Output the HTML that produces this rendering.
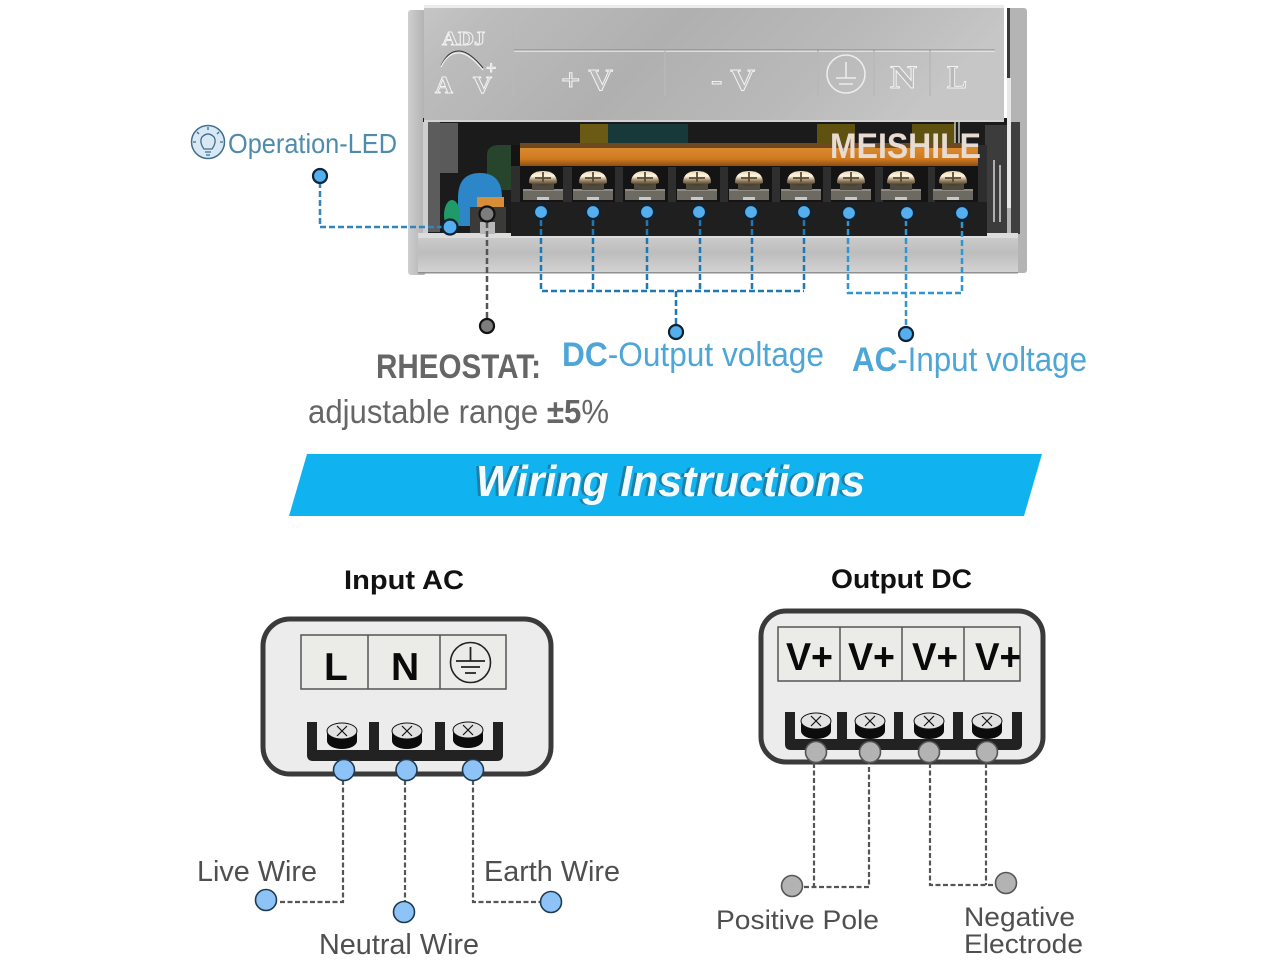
<!DOCTYPE html>
<html><head><meta charset="utf-8"><style>
html,body{margin:0;padding:0;background:#fff}
svg{display:block}
text{font-family:"Liberation Sans",sans-serif}
.em{font-family:"Liberation Serif",serif;font-weight:700;fill:#b9b9b9;stroke:#f4f4f4;stroke-width:.9}
</style></head><body>
<svg width="1280" height="960" viewBox="0 0 1280 960" xmlns="http://www.w3.org/2000/svg">
<defs>
<linearGradient id="plate" x1="0" y1="0" x2="1" y2="0.2">
<stop offset="0" stop-color="#c6c6c6"/><stop offset=".12" stop-color="#bcbcbc"/><stop offset=".45" stop-color="#b0b0b0"/><stop offset=".75" stop-color="#b9b9b9"/><stop offset="1" stop-color="#c6c6c6"/>
</linearGradient>
<linearGradient id="lip" x1="0" y1="0" x2="0" y2="1">
<stop offset="0" stop-color="#cfcfcf"/><stop offset=".5" stop-color="#bdbdbd"/><stop offset="1" stop-color="#d4d4d4"/>
</linearGradient>
<linearGradient id="orange" x1="0" y1="0" x2="0" y2="1">
<stop offset="0" stop-color="#d98a2e"/><stop offset=".6" stop-color="#d07a20"/><stop offset="1" stop-color="#8d4f10"/>
</linearGradient>
<linearGradient id="screw" x1="0" y1="0" x2="0" y2="1">
<stop offset="0" stop-color="#e8d8b8"/><stop offset=".35" stop-color="#fff6e2"/><stop offset=".65" stop-color="#a08a68"/><stop offset="1" stop-color="#3a3226"/>
</linearGradient>
<linearGradient id="wall" x1="0" y1="0" x2="1" y2="0">
<stop offset="0" stop-color="#cfcfcf"/><stop offset="1" stop-color="#b0b0b0"/>
</linearGradient>
<g id="sc">
<rect x="-20" y="4" width="40" height="11" fill="#6d6a62"/>
<rect x="-20" y="4" width="40" height="2" fill="#8f8b82"/>
<rect x="-11" y="-3" width="22" height="8" fill="#4f4a40"/>
<path d="M-14 -2Q-14 -14 0 -14Q14 -14 14 -2Q0 3 -14 -2Z" fill="url(#screw)"/>
<path d="M-8 -7H8M0 -13V-3" stroke="#5a4a34" stroke-width="1.800"/>
<rect x="-6" y="12" width="12" height="3" fill="#c9c9c9"/>
</g>
<g id="ts">
<ellipse cx="0" cy="8" rx="15" ry="8" fill="#0c0c0c"/>
<rect x="-15" y="-1" width="30" height="9" fill="#0c0c0c"/>
<ellipse cx="0" cy="-2" rx="15" ry="8" fill="#e2e2e2" stroke="#111" stroke-width="1"/>
<path d="M-5 -7L5 3M5 -7L-5 3" stroke="#111" stroke-width="1.200"/>
</g>
</defs>

<!-- PSU body -->
<rect x="408" y="10" width="18" height="265" rx="3" fill="url(#wall)"/>
<rect x="423" y="118" width="590" height="118" fill="#1b1b1b"/>
<rect x="423" y="122" width="5" height="112" fill="#cfcfcf"/>
<rect x="428" y="122" width="12" height="110" fill="#5c5c5c"/>
<rect x="440" y="123" width="18" height="50" fill="#5a5a5a"/>
<rect x="985" y="125" width="22" height="108" fill="#3c3c3c"/>
<path d="M994 160V222M1000 165V222" stroke="#d5d5d5" stroke-width="1.500"/>
<rect x="1007" y="8" width="20" height="265" rx="3" fill="#b4b4b4"/>
<rect x="1007" y="8" width="3" height="70" fill="#3a3a3a"/>
<rect x="1011" y="122" width="9" height="112" fill="#3f3f3f"/>
<rect x="1007" y="78" width="4" height="130" fill="#e8e8e8"/>
<rect x="580" y="124" width="28" height="20" fill="#6a5a14"/>
<rect x="608" y="124" width="80" height="20" fill="#17393a"/>
<rect x="817" y="124" width="38" height="20" fill="#5f5210"/>
<rect x="912" y="124" width="43" height="20" fill="#5f5210"/>
<path d="M955 122V148M959 122V148" stroke="#ddd" stroke-width="1.300"/>
<rect x="424" y="5" width="580" height="117" rx="2" fill="url(#plate)"/>
<rect x="424" y="5" width="580" height="3" fill="#ececec"/>
<rect x="424" y="120" width="580" height="2" fill="#d2d2d2"/>
<rect x="418" y="233" width="600" height="40" fill="url(#lip)"/>
<rect x="418" y="233" width="600" height="5" fill="#dcdcdc"/>
<rect x="418" y="272" width="600" height="1.500" fill="#8f8f8f"/>

<!-- Engraved -->
<g fill="none" stroke="#ececec" stroke-width="1.600">
<path d="M513 22V96M514 51H995M665 51V96M818 50V96M874 50V96M930 50V96"/>
<circle cx="846" cy="74" r="19"/>
<path d="M846 62V78M836 78H856M839 84H853"/>
</g>
<path d="M513 22V96M514 50H995M665 51V96M818 50V96M874 50V96M930 50V96" fill="none" stroke="#777" stroke-width=".7"/>
<path d="M441 66Q448 50 460 51Q470 52 483 68" fill="none" stroke="#333" stroke-width="1"/>
<path d="M441 67Q448 52 460 53Q470 54 483 70" fill="none" stroke="#f4f4f4" stroke-width="1.200"/>
<text class="em" x="442" y="45" font-size="20" textLength="43" lengthAdjust="spacingAndGlyphs">ADJ</text>
<text class="em" x="435" y="93" font-size="24" textLength="18" lengthAdjust="spacingAndGlyphs">A</text>
<text class="em" x="473" y="93" font-size="24" textLength="19" lengthAdjust="spacingAndGlyphs">V</text>
<text class="em" x="486" y="74" font-size="18">+</text>
<text class="em" x="561" y="90" font-size="31" textLength="52" lengthAdjust="spacingAndGlyphs">+ V</text>
<text class="em" x="711" y="90" font-size="31" textLength="44" lengthAdjust="spacingAndGlyphs">- V</text>
<text class="em" x="890" y="88" font-size="33" textLength="27" lengthAdjust="spacingAndGlyphs">N</text>
<text class="em" x="947" y="88" font-size="33" textLength="20" lengthAdjust="spacingAndGlyphs">L</text>

<!-- Components -->
<path d="M487 190V155Q487 145 500 145H511V190Z" fill="#27452c"/>
<path d="M458 226V198Q458 173 480 173Q502 173 502 198V226Z" fill="#2c86c8"/>
<ellipse cx="452" cy="215" rx="8" ry="15" fill="#1f9a68"/>
<rect x="477" y="197" width="27" height="11" fill="#d68e38"/>
<rect x="470" y="207" width="36" height="26" fill="#3a3a38"/>
<rect x="480" y="222" width="15" height="12" fill="#b8b8b8"/>

<!-- Terminal block -->
<rect x="511" y="145" width="476" height="91" fill="#141414"/>
<rect x="520" y="143" width="458" height="6" fill="#6e4820"/>
<rect x="520" y="148" width="458" height="18" fill="url(#orange)"/>
<rect x="511" y="202" width="476" height="34" fill="#1f1f1f"/>
<g fill="#2e2e2e">
<rect x="511" y="166" width="9" height="36"/><rect x="563" y="167" width="9" height="35"/><rect x="615" y="167" width="8" height="35"/><rect x="668" y="167" width="8" height="35"/><rect x="720" y="167" width="8" height="35"/><rect x="772" y="167" width="8" height="35"/><rect x="823" y="167" width="8" height="35"/><rect x="875" y="167" width="8" height="35"/><rect x="928" y="167" width="7" height="35"/><rect x="978" y="145" width="9" height="57"/>
</g>
<use href="#sc" x="543" y="185"/><use href="#sc" x="593" y="185"/><use href="#sc" x="645" y="185"/><use href="#sc" x="697" y="185"/><use href="#sc" x="749" y="185"/><use href="#sc" x="801" y="185"/><use href="#sc" x="851" y="185"/><use href="#sc" x="901" y="185"/><use href="#sc" x="953" y="185"/>
<text x="830" y="158" font-size="35" font-weight="700" fill="#e8dcd2" textLength="151" lengthAdjust="spacingAndGlyphs">MEISHILE</text>

<!-- PSU connectors -->
<g fill="none" stroke-width="2.500" stroke-dasharray="6 3">
<path d="M320 182V227H446" stroke="#2f86bd"/>
<path d="M541 220V291H804M593 220V291M647 220V291M700 220V291M752 220V291M804 220V291M676 291V326" stroke="#1d78b6"/>
<path d="M848 220V293H962V220M906 220V328" stroke="#2f96d2"/>
<path d="M487 222V318" stroke="#555"/>
</g>
<g fill="#55aeee" stroke="#0d2233" stroke-width="2.200">
<circle cx="320" cy="176" r="7"/><circle cx="450" cy="227" r="7.500"/>
<circle cx="541" cy="212" r="7"/><circle cx="593" cy="212" r="7"/><circle cx="647" cy="212" r="7"/><circle cx="699" cy="212" r="7"/><circle cx="751" cy="212" r="7"/><circle cx="804" cy="212" r="7"/><circle cx="849" cy="213" r="7"/><circle cx="907" cy="213" r="7"/><circle cx="962" cy="213" r="7"/>
<circle cx="676" cy="332" r="7"/><circle cx="906" cy="334" r="7"/>
</g>
<g fill="#7d7d7d" stroke="#111" stroke-width="2.200"><circle cx="487" cy="214" r="7.500"/><circle cx="487" cy="326" r="7"/></g>

<!-- Operation LED -->
<circle cx="208" cy="142" r="16.500" fill="#d8e9f5" stroke="#3f6f8c" stroke-width="1.500"/>
<g fill="none" stroke="#3f6f8c" stroke-width="1.300">
<path d="M204 149Q199 142 202 137Q208 131 214 137Q217 142 212 149Z"/><path d="M205 152H211M206 155H210"/>
<path d="M208 127V130M197 132L199 134M219 132L217 134M193 142H196M220 142H223"/>
</g>
<text x="228" y="153" font-size="28" fill="#4f8bab" textLength="169" lengthAdjust="spacingAndGlyphs">Operation-LED</text>

<text x="376" y="378" font-size="34" font-weight="700" fill="#666" textLength="165" lengthAdjust="spacingAndGlyphs">RHEOSTAT:</text>
<text x="308" y="423" font-size="33" fill="#666" textLength="301" lengthAdjust="spacingAndGlyphs">adjustable range <tspan font-weight="700">±5</tspan>%</text>
<text x="562" y="366" font-size="34" fill="#4ea6d8" textLength="262" lengthAdjust="spacingAndGlyphs"><tspan font-weight="700">DC</tspan>-Output voltage</text>
<text x="852" y="371" font-size="34" fill="#4ea6d8" textLength="235" lengthAdjust="spacingAndGlyphs"><tspan font-weight="700">AC</tspan>-Input voltage</text>

<!-- Banner -->
<polygon points="307,454 1042,454 1024,516 289,516" fill="#10b2f0"/>
<text x="473" y="496" font-size="44" font-weight="700" font-style="italic" fill="#1d7fa8" textLength="389" lengthAdjust="spacingAndGlyphs">Wiring Instructions</text>
<text x="476" y="496" font-size="44" font-weight="700" font-style="italic" fill="#f4fbff" textLength="389" lengthAdjust="spacingAndGlyphs">Wiring Instructions</text>

<!-- Input AC -->
<text x="344" y="589" font-size="27" font-weight="700" fill="#111" textLength="120" lengthAdjust="spacingAndGlyphs">Input AC</text>
<rect x="263" y="619" width="288" height="155" rx="27" fill="#ececec" stroke="#3a3a3a" stroke-width="5"/>
<rect x="301" y="635" width="205" height="54" fill="#ebebe8" stroke="#555" stroke-width="1.500"/>
<path d="M368 635V689M440 635V689" stroke="#555" stroke-width="1.500"/>
<text x="324" y="680" font-size="39" font-weight="700" fill="#0a0a0a">L</text>
<text x="391" y="680" font-size="39" font-weight="700" fill="#0a0a0a">N</text>
<circle cx="470.500" cy="662.500" r="20" fill="none" stroke="#222" stroke-width="1.600"/>
<path d="M470.500 647V661M456 661H485M461 667H480M465 673H476" stroke="#222" stroke-width="1.800" fill="none"/>
<path d="M307 722H317V750H369V722H379V750H435V722H445V750H493V722H503V755Q503 761 497 761H313Q307 761 307 755Z" fill="#222"/>
<use href="#ts" x="342" y="733"/><use href="#ts" x="407" y="733"/><use href="#ts" x="468" y="732"/>
<g fill="none" stroke="#555" stroke-width="2.200" stroke-dasharray="5 2.500">
<path d="M343 780V902H278"/><path d="M405 780V903"/><path d="M473 780V902H541"/>
</g>
<g fill="#8dc3f6" stroke="#1e3a52" stroke-width="1.600">
<circle cx="344" cy="770" r="10.500"/><circle cx="406.500" cy="770" r="10.500"/><circle cx="473" cy="770" r="10.500"/>
<circle cx="266" cy="900" r="10.500"/><circle cx="404" cy="912" r="10.500"/><circle cx="551" cy="902" r="10.500"/>
</g>
<g fill="#4f4f4f" font-size="29">
<text x="197" y="881" textLength="120" lengthAdjust="spacingAndGlyphs">Live Wire</text>
<text x="484" y="881" textLength="136" lengthAdjust="spacingAndGlyphs">Earth Wire</text>
<text x="319" y="954" textLength="160" lengthAdjust="spacingAndGlyphs">Neutral Wire</text>
</g>

<!-- Output DC -->
<text x="831" y="588" font-size="27" font-weight="700" fill="#111" textLength="141" lengthAdjust="spacingAndGlyphs">Output DC</text>
<rect x="761" y="611" width="282" height="151" rx="25" fill="#ececec" stroke="#3a3a3a" stroke-width="5"/>
<rect x="778" y="627" width="242" height="54" fill="#ebebe8" stroke="#555" stroke-width="1.500"/>
<path d="M840 627V681M902 627V681M964 627V681" stroke="#555" stroke-width="1.500"/>
<g font-size="39" font-weight="700" fill="#0a0a0a">
<text x="786" y="670" textLength="47" lengthAdjust="spacingAndGlyphs">V+</text>
<text x="848" y="670" textLength="47" lengthAdjust="spacingAndGlyphs">V+</text>
<text x="912" y="670" textLength="46" lengthAdjust="spacingAndGlyphs">V+</text>
<text x="975" y="670" textLength="46" lengthAdjust="spacingAndGlyphs">V+</text>
</g>
<path d="M785 712H795V739H837V712H847V739H894V712H903V739H953V712H963V739H1012V712H1022V744Q1022 750 1016 750H791Q785 750 785 744Z" fill="#222"/>
<use href="#ts" x="816" y="723"/><use href="#ts" x="870" y="723"/><use href="#ts" x="929" y="723"/><use href="#ts" x="987" y="723"/>
<g fill="none" stroke="#555" stroke-width="2.200" stroke-dasharray="5 2.500">
<path d="M804 887H869V763M814 763V887"/><path d="M930 763V885H996M986 763V885"/>
</g>
<g fill="#b3b3b3" stroke="#555" stroke-width="1.600">
<circle cx="816" cy="752" r="10.500"/><circle cx="870" cy="752" r="10.500"/><circle cx="929" cy="752" r="10.500"/><circle cx="987" cy="752" r="10.500"/>
<circle cx="792" cy="886" r="10.500"/><circle cx="1006" cy="883" r="10.500"/>
</g>
<g fill="#4f4f4f" font-size="27">
<text x="716" y="929" textLength="163" lengthAdjust="spacingAndGlyphs">Positive Pole</text>
<text x="964" y="926" textLength="111" lengthAdjust="spacingAndGlyphs">Negative</text>
<text x="964" y="953" textLength="119" lengthAdjust="spacingAndGlyphs">Electrode</text>
</g>
</svg>
</body></html>
